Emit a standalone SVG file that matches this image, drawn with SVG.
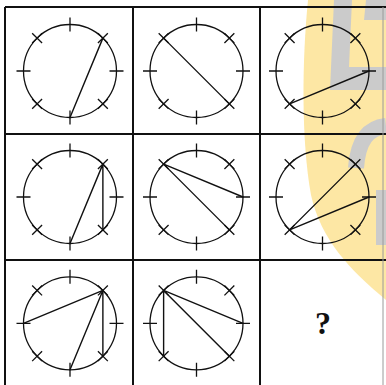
<svg xmlns="http://www.w3.org/2000/svg" xmlns:xlink="http://www.w3.org/1999/xlink" width="386" height="385" viewBox="0 0 386 385">
<style>
.grid{stroke:#111;stroke-width:2;fill:none}
.chord{stroke:#111;stroke-width:1.4;fill:none;stroke-linecap:round}
.wm-y{fill:#fde7a4}
.wm-g{fill:#cbcbcb}
.q{font-family:"Liberation Serif","DejaVu Serif",serif;font-weight:bold;font-size:32px;fill:#111}
</style>
<defs>
<g id="dial" stroke="#111" stroke-width="1.3" fill="none">
<circle r="46.5"/>
<path d="M0,-39.5V-53.5M0,39.5V53.5M-39.5,0H-53.5M39.5,0H53.5M27.93,-27.93L37.83,-37.83M27.93,-37.83L37.83,-27.93M27.93,27.93L37.83,37.83M27.93,37.83L37.83,27.93M-27.93,27.93L-37.83,37.83M-27.93,37.83L-37.83,27.93M-27.93,-27.93L-37.83,-37.83M-27.93,-37.83L-37.83,-27.93"/>
</g>
</defs>
<g id="watermark">
<path class="wm-y" d="M308,0 C302,60 301,140 311,195 C321,240 350,270 386,300 L386,0 Z"/>
<path class="wm-g" d="M334,0 L352,0 L349,67 L386,67 L386,90 L330,90 Z"/>
<path class="wm-g" d="M366,0 L386,0 L386,20 L364,20 Z"/>
<path d="M356,168 C358,140 368,128 386,126" fill="none" stroke="#cbcbcb" stroke-width="16"/>
<path class="wm-g" d="M376,190 L386,190 L386,245 L376,245 Z"/>
</g>
<g id="grid">
<path class="grid" d="M5,7H386M5,134H386M5,260H386M5,7V385M133,7V385M260,7V385"/>
<path d="M383,7V385" stroke="#9a9a9a" stroke-width="1" fill="none"/>
</g>
<g id="cell-1-1" transform="translate(70,71)">
<use xlink:href="#dial"/>
<path class="chord" d="M32.88,-32.88L0,46.5"/>
</g>
<g id="cell-1-2" transform="translate(196.5,71)">
<use xlink:href="#dial"/>
<path class="chord" d="M-32.88,-32.88L32.88,32.88"/>
</g>
<g id="cell-1-3" transform="translate(322.5,71)">
<use xlink:href="#dial"/>
<path class="chord" d="M-32.88,32.88L46.5,0"/>
</g>
<g id="cell-2-1" transform="translate(70,197)">
<use xlink:href="#dial"/>
<path class="chord" d="M32.88,-32.88L0,46.5M32.88,-32.88L32.88,32.88"/>
</g>
<g id="cell-2-2" transform="translate(196.5,197)">
<use xlink:href="#dial"/>
<path class="chord" d="M-32.88,-32.88L46.5,0M-32.88,-32.88L32.88,32.88"/>
</g>
<g id="cell-2-3" transform="translate(322.5,197)">
<use xlink:href="#dial"/>
<path class="chord" d="M-32.88,32.88L32.88,-32.88M-32.88,32.88L46.5,0"/>
</g>
<g id="cell-3-1" transform="translate(70,323.3)">
<use xlink:href="#dial"/>
<path class="chord" d="M32.88,-32.88L-46.5,0M32.88,-32.88L0,46.5M32.88,-32.88L32.88,32.88"/>
</g>
<g id="cell-3-2" transform="translate(196.5,323.3)">
<use xlink:href="#dial"/>
<path class="chord" d="M-32.88,-32.88L-32.88,32.88M-32.88,-32.88L46.5,0M-32.88,-32.88L32.88,32.88"/>
</g>
<g id="cell-3-3">
<text class="q" x="323" y="334" text-anchor="middle">?</text>
</g>
</svg>
